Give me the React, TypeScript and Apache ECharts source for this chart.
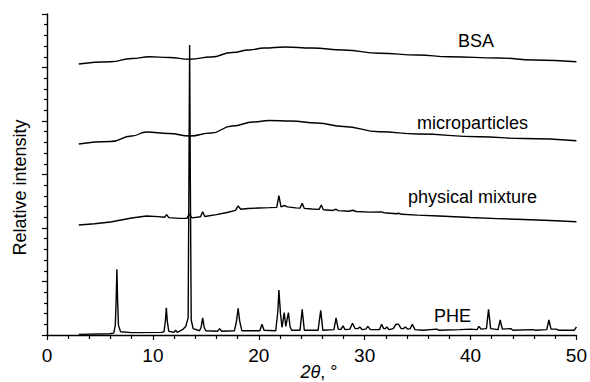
import React, { useEffect, useRef } from "react";
import * as echarts from "echarts";

// 2θ (degrees) vs relative intensity (stacked offsets, arbitrary units)
const bsa: [number, number][] = [
  [3, 25.33], [6, 25.54], [8, 25.84], [9.7, 26.01], [11.5, 25.93], [13.5, 25.77],
  [15.5, 25.98], [17.5, 26.4], [19.1, 26.64], [20.5, 26.82], [22.5, 26.92], [25, 26.82],
  [28, 26.64], [31.4, 26.33], [35, 26.17], [38, 26.01], [42.7, 25.89], [46, 25.7], [50, 25.54],
];

const microparticles: [number, number][] = [
  [3, 17.85], [6, 18.08], [8, 18.6], [9.4, 18.97], [11.5, 18.83], [13.5, 18.6],
  [15.5, 18.88], [17.5, 19.53], [19.5, 19.91], [21, 20.05], [23, 20.0], [25.5, 19.81],
  [28, 19.49], [31.4, 19.0], [35, 18.79], [40.8, 18.53], [45, 18.36], [50, 18.16],
];

const physicalMixture: [number, number][] = [
  [3, 10.28], [4.5, 10.4], [6, 10.56], [7, 10.75], [8, 10.93], [9.4, 11.12], [10.5, 11.06],
  [11.1, 11.0], [11.3, 11.25], [11.5, 10.97], [12.5, 10.9], [13.2, 10.9], [13.45, 11.3],
  [13.7, 10.95], [14.5, 11.05], [14.7, 11.52], [14.9, 11.08], [16, 11.25], [17, 11.45],
  [17.8, 11.65], [18.05, 12.06], [18.3, 11.75], [19, 11.82], [20, 11.87], [21, 11.9],
  [21.7, 11.93], [21.9, 13.02], [22.1, 11.98], [22.45, 12.1], [22.7, 11.97], [23.5, 11.88],
  [23.9, 11.86], [24.1, 12.31], [24.3, 11.83], [25, 11.78], [25.7, 11.74], [25.9, 12.15],
  [26.1, 11.7], [27, 11.64], [27.3, 11.75], [27.5, 11.62], [28.5, 11.57], [28.9, 11.66],
  [29.2, 11.54], [30.5, 11.48], [31.6, 11.5], [31.8, 11.43], [33, 11.33], [33.2, 11.38],
  [33.5, 11.28], [35, 11.2], [37, 11.12], [40, 10.98], [42.5, 10.88], [45, 10.79],
  [47.5, 10.7], [50, 10.59],
];

const phe: [number, number][] = [
  [3.0, 0.06], [5.9, 0.12], [6.3, 0.18], [6.45, 0.9], [6.53, 3.2], [6.6, 6.14], [6.67, 3.2],
  [6.75, 0.9], [6.95, 0.3], [8.0, 0.22], [10.8, 0.25], [11.05, 0.3], [11.18, 1.3], [11.27, 2.55],
  [11.36, 1.3], [11.5, 0.35], [12.0, 0.25], [12.15, 0.45], [12.3, 0.25], [12.8, 0.5], [13.1, 0.8],
  [13.33, 1.6], [13.4, 14], [13.47, 27.1], [13.54, 14], [13.62, 1.4], [13.8, 0.6], [14.4, 0.4],
  [14.55, 0.7], [14.7, 1.6], [14.85, 0.7], [15.0, 0.4], [16.1, 0.35], [16.3, 0.6], [16.5, 0.35],
  [17.7, 0.4], [17.9, 1.3], [18.05, 2.5], [18.2, 1.3], [18.4, 0.4], [20.1, 0.4], [20.3, 1.0],
  [20.5, 0.45], [21.6, 0.4], [21.8, 2.2], [21.9, 4.2], [22.05, 2.0], [22.2, 0.7], [22.4, 2.1],
  [22.55, 0.8], [22.8, 2.1], [22.95, 0.8], [23.1, 0.45], [23.9, 0.45], [24.1, 2.4], [24.3, 0.45],
  [25.6, 0.45], [25.85, 2.3], [26.05, 0.45], [27.1, 0.5], [27.3, 1.6], [27.5, 0.55], [27.75, 0.5],
  [27.95, 0.85], [28.15, 0.5], [28.6, 0.55], [28.85, 1.1], [29.1, 0.6], [29.35, 0.6], [29.55, 0.75],
  [29.75, 0.5], [30.1, 0.55], [30.3, 0.8], [30.55, 0.5], [31.4, 0.5], [31.6, 1.0], [31.8, 0.6],
  [31.95, 0.6], [32.1, 0.75], [32.3, 0.5], [32.7, 0.6], [32.95, 1.0], [33.2, 1.0], [33.45, 0.6],
  [33.65, 0.6], [33.85, 0.75], [34.05, 0.55], [34.3, 0.6], [34.5, 1.0], [34.75, 0.5], [35.5, 0.45],
  [36.8, 0.55], [37.0, 0.45], [39.0, 0.5], [40.0, 0.55], [40.6, 0.5], [40.8, 0.8], [41.0, 0.55],
  [41.5, 0.6], [41.7, 2.4], [41.9, 0.6], [42.6, 0.5], [42.8, 1.4], [43.0, 0.55], [43.8, 0.6],
  [44.0, 0.45], [45.9, 0.5], [46.1, 0.45], [47.2, 0.5], [47.4, 1.4], [47.6, 0.55], [48.1, 0.55],
  [48.3, 0.45], [49.8, 0.45], [50.0, 0.75],
];

const traceLabels = ["BSA", "microparticles", "physical mixture", "PHE"];
const xTicks = [0, 10, 20, 30, 40, 50];
const yAxisTitle = "Relative intensity";

const FONT = "'Liberation Sans', Arial, sans-serif";

export default function App() {
  const ref = useRef<HTMLDivElement>(null);
  useEffect(() => {
    if (!ref.current) return;
    const chart = echarts.init(ref.current, undefined, { renderer: "svg" });
    const lineSeries = (data: [number, number][], smooth: number | boolean) => ({
      type: "line",
      data,
      showSymbol: false,
      smooth,
      smoothMonotone: "x",
      lineStyle: { color: "#000", width: 1.4 },
      silent: true,
    });
    const labelPos: [number, number][] = [
      [476, 40.5],
      [472.5, 123],
      [472.5, 197],
      [452.5, 315.5],
    ];
    chart.setOption({
      animation: false,
      grid: { left: 47, right: 12, top: 14, bottom: 47, containLabel: false },
      xAxis: {
        type: "value",
        min: xTicks[0],
        max: xTicks[xTicks.length - 1],
        interval: 10,
        axisLine: { lineStyle: { color: "#000", width: 1.4 } },
        axisTick: { length: 5, lineStyle: { color: "#000", width: 1.2 } },
        minorTick: { show: true, splitNumber: 5, length: 4, lineStyle: { color: "#000", width: 1.2 } },
        splitLine: { show: false },
        axisLabel: { color: "#000", fontSize: 19, fontFamily: FONT, margin: 11 },
      },
      yAxis: {
        type: "value",
        min: 0,
        max: 30,
        interval: 5,
        axisLine: { show: true, lineStyle: { color: "#000", width: 1.4 } },
        axisTick: { show: true, length: 5, lineStyle: { color: "#000", width: 1.2 } },
        minorTick: { show: true, splitNumber: 5, length: 3, lineStyle: { color: "#000", width: 1.2 } },
        splitLine: { show: false },
        axisLabel: { show: false },
      },
      series: [
        lineSeries(bsa, 0.5),
        lineSeries(microparticles, 0.5),
        lineSeries(physicalMixture, false),
        lineSeries(phe, false),
      ],
      graphic: [
        ...traceLabels.map((t, i) => ({
          type: "text",
          x: labelPos[i][0],
          y: labelPos[i][1],
          style: {
            text: t,
            fill: "#000",
            font: `18px ${FONT}`,
            textAlign: "center",
            textVerticalAlign: "middle",
          },
        })),
        {
          type: "text",
          x: 20,
          y: 187.5,
          rotation: Math.PI / 2,
          style: {
            text: yAxisTitle,
            fill: "#000",
            font: `18px ${FONT}`,
            textAlign: "center",
            textVerticalAlign: "middle",
          },
        },
        {
          type: "text",
          x: 319,
          y: 372,
          style: {
            text: "{i|2θ}, °",
            fill: "#000",
            font: `18px ${FONT}`,
            textAlign: "center",
            textVerticalAlign: "middle",
            rich: {
              i: { fontStyle: "italic", fontSize: 18, fontFamily: FONT, fill: "#000" },
            },
          },
        },
      ],
    });
    return () => chart.dispose();
  }, []);
  return <div ref={ref} style={{ width: 590, height: 382, position: "absolute", left: 0, top: 0 }} />;
}
